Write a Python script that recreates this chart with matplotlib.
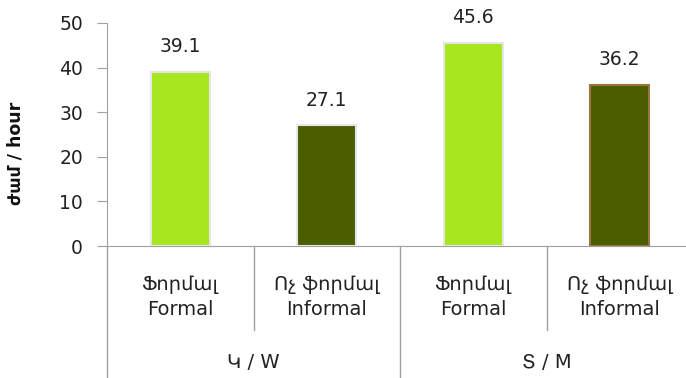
import matplotlib
matplotlib.use("Agg")
import matplotlib.pyplot as plt
from matplotlib.transforms import blended_transform_factory

categories = ["Ֆորմալ\nFormal", "Ոչ ֆորմալ\nInformal", "Ֆորմալ\nFormal", "Ոչ ֆորմալ\nInformal"]
groups = ["Կ / W", "Տ / M"]
values = [39.1, 27.1, 45.6, 36.2]
colors = ["#A8E620", "#4A5E00", "#A8E620", "#4A5E00"]
edges = ["#E6E6E6", "#E6E6E6", "#E6E6E6", "#9C7444"]
yticks = [0, 10, 20, 30, 40, 50]

plt.rcParams['font.family'] = ['DejaVu Sans']
fig = plt.figure(figsize=(6.86, 3.78), dpi=100)
cat_w = 146.5
ax = fig.add_axes([107/686, 1-246/378, 4*cat_w/686, 223/378])

x = list(range(len(values)))
ax.bar(x, values, width=0.4, color=colors, edgecolor=edges, linewidth=1.5, zorder=3)
for xi, v in zip(x, values):
    ax.text(xi, v + 5.6, f"{v:.1f}", ha="center", va="center", fontsize=13.5, color="#222222")

ax.set_xlim(-0.5, 3.5)
ax.set_ylim(0, 50)
ax.set_yticks(yticks)
ax.tick_params(axis="y", labelsize=13.5, length=7.2, color="#A0A0A0", pad=10, labelcolor="#222222")
ax.set_xticks([])
for s in ["top", "right"]:
    ax.spines[s].set_visible(False)
ax.spines["left"].set_color("#A0A0A0")
ax.spines["bottom"].set_color("#A0A0A0")
fig.text(16/686, 1-153/378, "ժամ / hour", rotation=90, ha="center", va="center",
         fontsize=12.5, fontweight="bold", color="#111111")

tr = blended_transform_factory(ax.transData, ax.transAxes)
h = 223.0
for xd, bottom in [(-0.5, -132/h), (0.5, -84/h), (1.5, -132/h), (2.5, -84/h)]:
    ax.plot([xd, xd], [0, bottom], transform=tr, color="#A0A0A0", lw=1, clip_on=False)
for xi, c in zip(x, categories):
    ax.text(xi, -51/h, c, transform=tr, ha="center", va="center", fontsize=14,
            color="#222222", linespacing=1.45)
for gi, g in enumerate(groups):
    ax.text(0.5 + 2*gi, -116/h, g, transform=tr, ha="center", va="center",
            fontsize=14, color="#222222")

fig.savefig("out.png", dpi=100)
